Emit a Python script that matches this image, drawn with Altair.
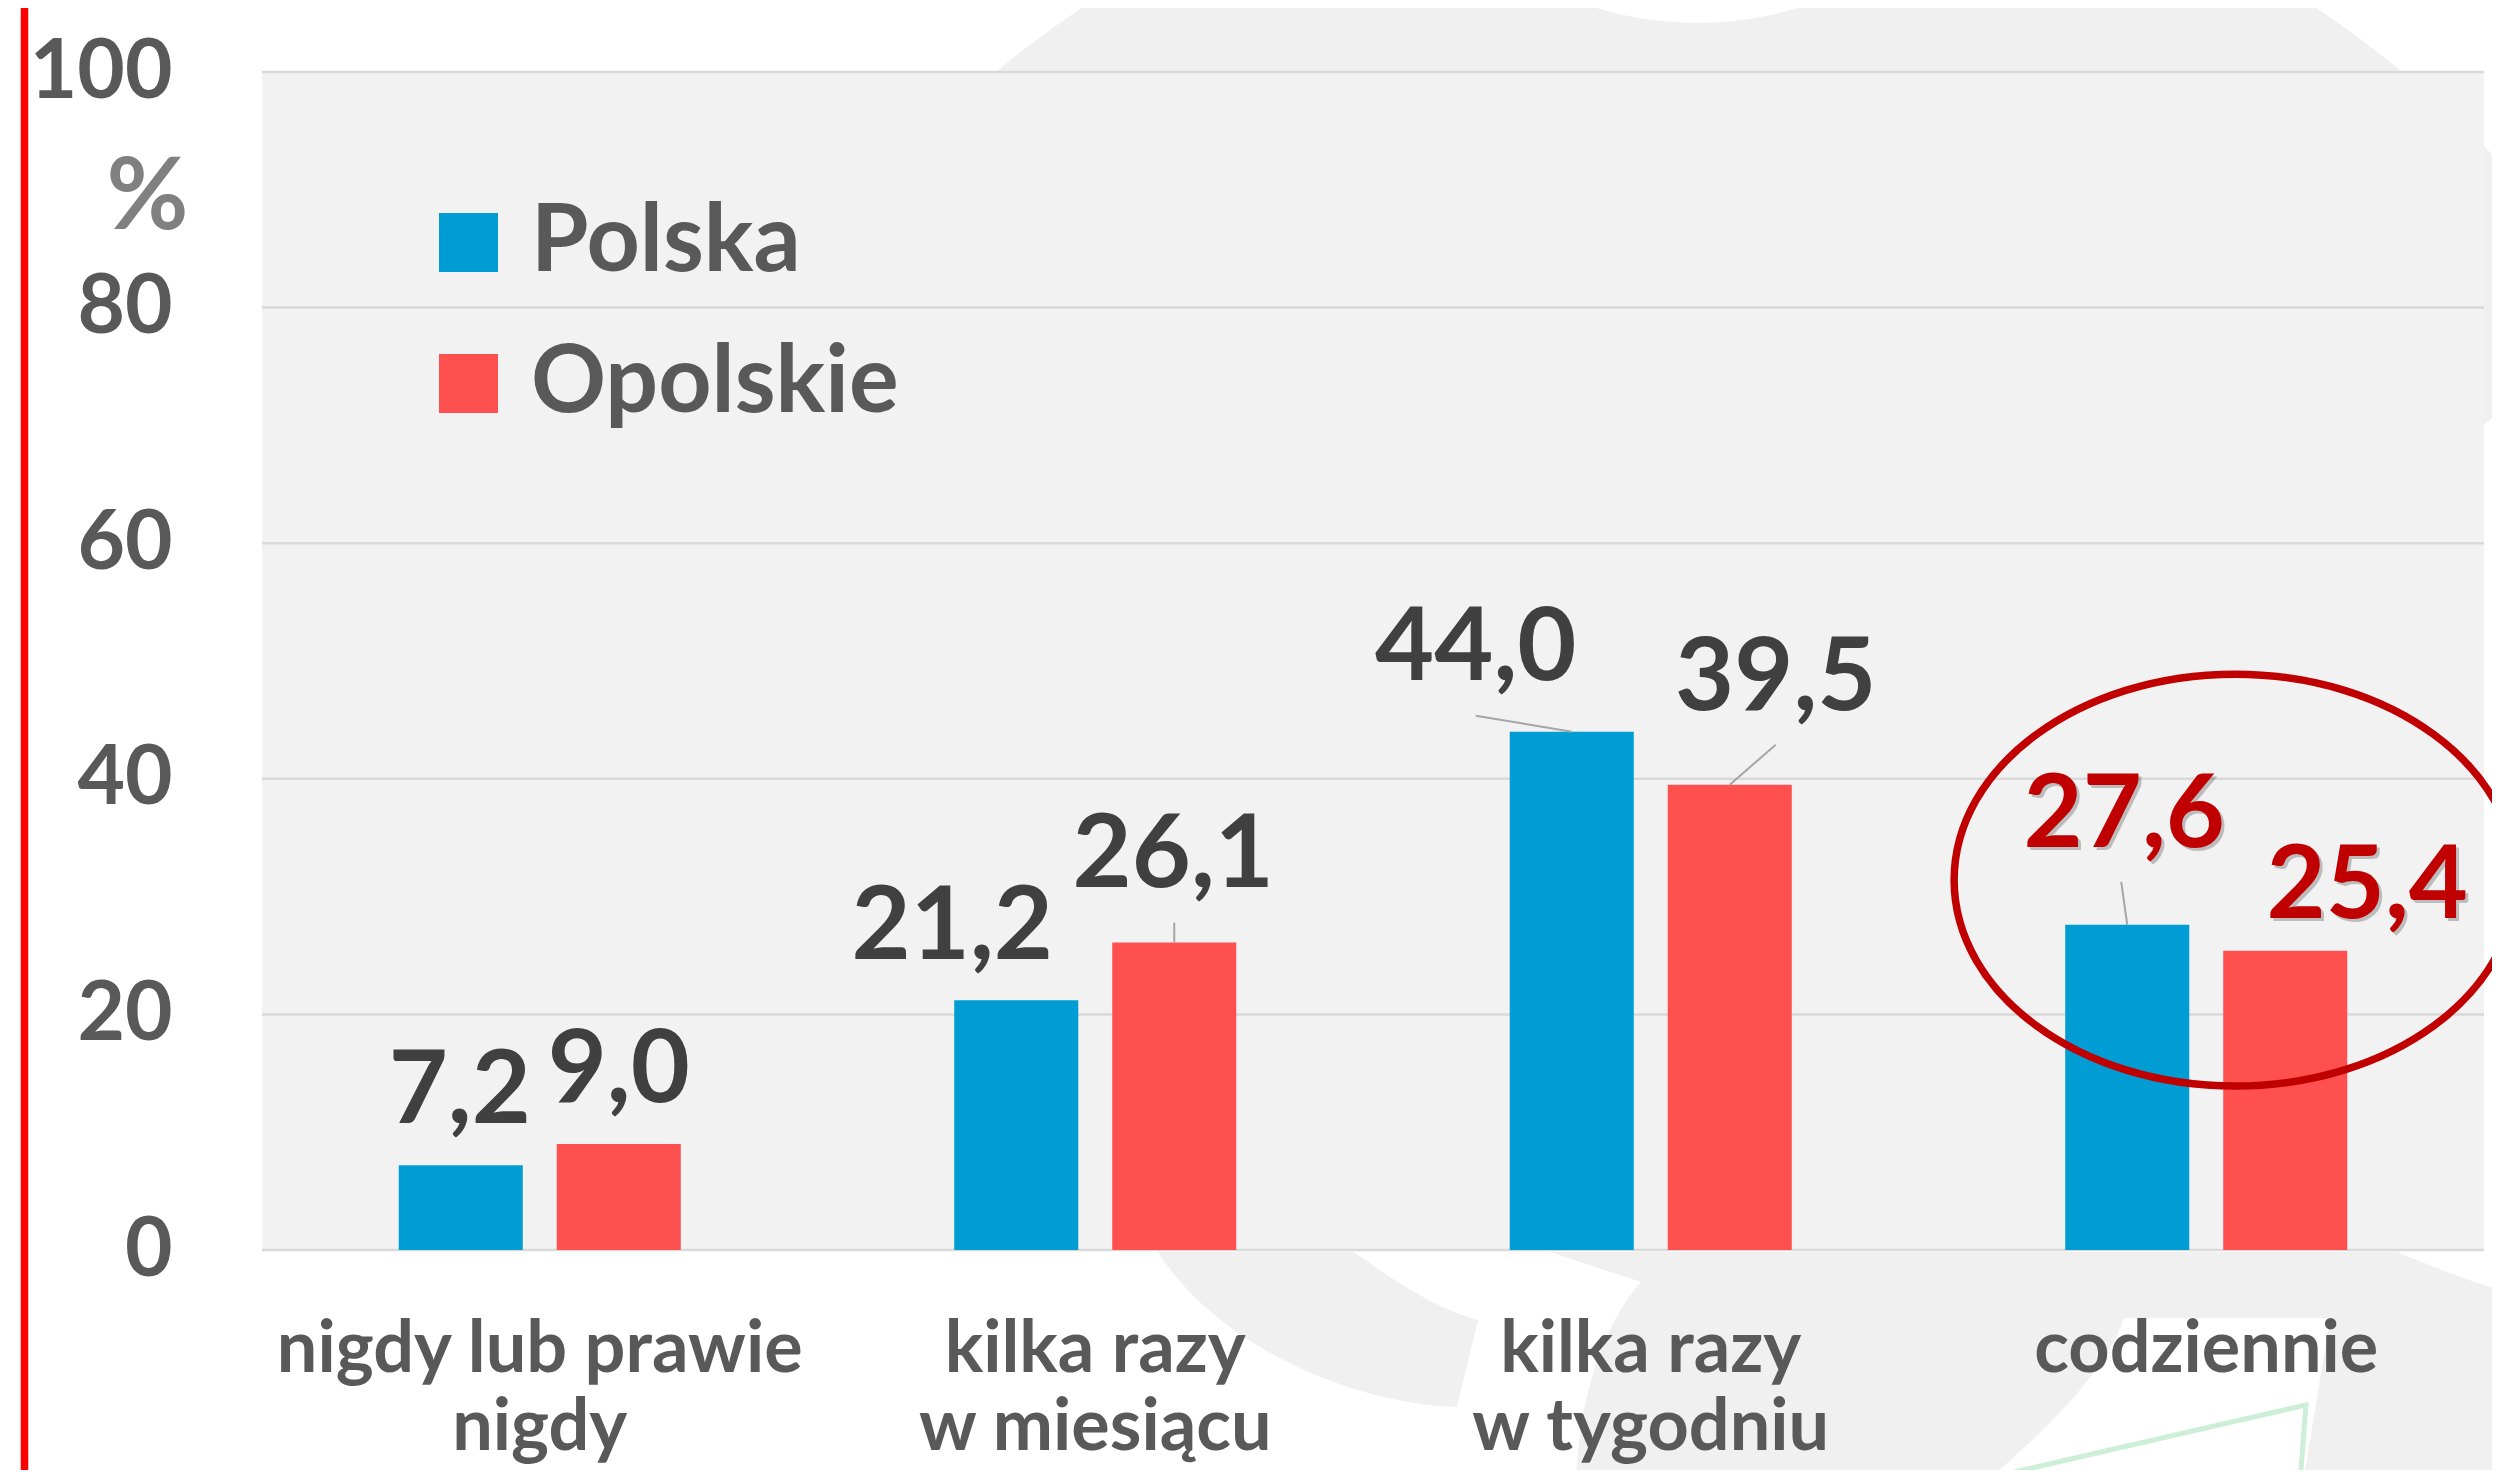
import math
import altair as alt
import pandas as pd

# ---------------- data ----------------
categories = ["nigdy lub prawie\nnigdy", "kilka razy\nw miesiącu", "kilka razy\nw tygodniu", "codziennie"]
series = ["Polska", "Opolskie"]
polska = [7.2, 21.2, 44.0, 27.6]
opolskie = [9.0, 26.1, 39.5, 25.4]
y_ticks = [0, 20, 40, 60, 80, 100]
highlight = "codziennie"

# label placement: pixel offset of label centre (x) / baseline (y) from the bar-top centre
label_dx = [[-1, -64, -96, -3], [0, -1, 46, 82]]
label_dy = [[-42, -41, -52, -78], [-42, -56, -75, -33]]
# leader lines: pixel offset of the far end from the bar-top centre (None = no leader)
leader = [[None, None, (-96, -16), (-6, -43)], [None, (0, -20), (46, -40), None]]

# ---------------- layout ----------------
W, H = 2222, 1178
PAD_INNER, PAD_OFF = 0.4923, 0.215
step_px = W / len(categories)
unit_px = H / 100
half = (1 - PAD_INNER) / (2 - PAD_OFF) / 2  # bar-centre offset, in category units

rows, lead_rows = [], []
for si, (s, vals) in enumerate(zip(series, [polska, opolskie])):
    sign = -1 if si == 0 else 1
    for ci, (c, v) in enumerate(zip(categories, vals)):
        xc = ci + 0.5 + sign * half
        rows.append(dict(cat=c, series=s, value=v,
                         text=f"{v:.1f}".replace(".", ","),
                         lx=xc + label_dx[si][ci] / step_px,
                         ly=v - label_dy[si][ci] / unit_px))
        if leader[si][ci]:
            dx, dy = leader[si][ci]
            lead_rows.append(dict(cat=c, x=xc, y=v, x2=xc + dx / step_px, y2=v - dy / unit_px))

df = pd.DataFrame(rows)
lead_df = pd.DataFrame(lead_rows)
one = pd.DataFrame({"k": [0]})
grid_df = pd.DataFrame({"t": y_ticks})

FONT = "Lato"
WM = "#EFF0EF"  # slide watermark grey
qx = alt.Scale(domain=[0, len(categories)], nice=False, zero=False)
ys = alt.Scale(domain=[0, 100], nice=False)
y_axis = alt.Axis(values=y_ticks, grid=False, ticks=False, domain=False,
                  labelFont=FONT, labelFontSize=82, labelFontWeight="bold",
                  labelColor="#595959", labelPadding=90,
                  title="%", titleAngle=0, titleX=-115, titleY=156,
                  titleAlign="center", titleBaseline="alphabetic",
                  titleFont=FONT, titleFontSize=100, titleFontWeight="bold",
                  titleColor="#808080")

# ---------------- decoration (slide watermark, page-pixel paths) ----------------
deco_arc = alt.Chart(one).mark_arc(
    radius=1108, theta=2 * math.pi - 1.0, theta2=2 * math.pi + 1.0, color=WM
).encode(x=alt.value(1437), y=alt.value(856))

deco_notch = alt.Chart(one).mark_point(
    shape="circle", filled=True, color="white", opacity=1, size=(2 * 346) ** 2
).encode(x=alt.value(1435), y=alt.value(-395))

wm_grey = ("M1158,1252 L1354,1252 C1400,1285 1440,1310 1478,1320 L1457,1407 "
           "C1360,1405 1220,1350 1158,1252 Z "
           "M1550,1252 L2397,1252 C2430,1265 2465,1280 2500,1290 L2520,1290 L2520,1520 "
           "L1574,1520 C1576,1400 1600,1330 1641,1282 Z")
wm_white = "M2124,1318 L2330,1318 L2297,1520 L1940,1520 C2000,1470 2100,1390 2124,1318 Z"
wm_green = "M1962,1484 L2306,1405 L2297,1520"

deco_low = alt.Chart(one).mark_point(
    shape=wm_grey, size=4, filled=True, color=WM, opacity=1
).encode(x=alt.value(-262), y=alt.value(-72))
deco_low_white = alt.Chart(one).mark_point(
    shape=wm_white, size=4, filled=True, color="white", opacity=1
).encode(x=alt.value(-262), y=alt.value(-72))
deco_low_green = alt.Chart(one).mark_point(
    shape=wm_green, size=4, filled=False, stroke="#CDEFD8", strokeWidth=5, opacity=1
).encode(x=alt.value(-262), y=alt.value(-72))

side_line = alt.Chart(one).mark_rule(color="#FF0000", strokeWidth=7.5).encode(
    x=alt.value(-237.5), y=alt.value(-80), y2=alt.value(1420)
)

# ---------------- plot background & grid ----------------
bg = alt.Chart(one).mark_rect(color="#F2F2F2").encode(
    x=alt.datum(0, scale=qx, axis=None), x2=alt.datum(len(categories)),
    y=alt.datum(0, scale=ys, axis=y_axis), y2=alt.datum(100),
)

grid = alt.Chart(grid_df).mark_rule(color="#D9D9D9", strokeWidth=2.5).encode(
    y=alt.Y("t:Q", scale=ys, axis=y_axis)
)

# ---------------- bars ----------------
bars = alt.Chart(df).mark_bar().encode(
    x=alt.X("cat:N", sort=categories,
            scale=alt.Scale(paddingInner=PAD_INNER, paddingOuter=PAD_INNER / 2),
            axis=alt.Axis(title=None, labelAngle=0, ticks=False, domain=False, grid=False,
                          labelFont=FONT, labelFontSize=72, labelFontWeight="bold",
                          labelColor="#595959", labelPadding=64, labelLineHeight=78,
                          labelLimit=0, zindex=1,
                          labelExpr="split(datum.label, '\\n')")),
    xOffset=alt.XOffset("series:N", sort=series,
                        scale=alt.Scale(paddingInner=PAD_OFF, paddingOuter=0)),
    y=alt.Y("value:Q", scale=ys, axis=y_axis),
    color=alt.Color("series:N", sort=series,
                    scale=alt.Scale(domain=series, range=["#009CD4", "#FF5050"]),
                    legend=alt.Legend(title=None, orient="none", legendX=160, legendY=124,
                                      symbolType="square", symbolSize=3481,
                                      symbolStrokeWidth=0, symbolOpacity=1,
                                      labelFont=FONT, labelFontSize=93, labelFontWeight="bold",
                                      labelColor="#595959", labelOffset=16, rowPadding=47,
                                      labelLimit=0, padding=0)),
)

# ---------------- annotations ----------------
leaders = alt.Chart(lead_df).mark_rule(color="#A6A6A6", strokeWidth=2).encode(
    x=alt.X("x:Q", scale=qx, axis=None), x2="x2:Q",
    y=alt.Y("y:Q", scale=ys, axis=y_axis), y2="y2:Q",
)

shadow = alt.Chart(df).transform_filter(alt.datum.cat == highlight).mark_text(
    font=FONT, fontSize=102, fontWeight="bold", align="center", baseline="alphabetic",
    dx=3, dy=3, color="#000000", opacity=0.22,
).encode(
    x=alt.X("lx:Q", scale=qx, axis=None), y=alt.Y("ly:Q", scale=ys, axis=y_axis), text="text:N"
)

labels = alt.Chart(df).mark_text(
    font=FONT, fontSize=102, fontWeight="bold", align="center", baseline="alphabetic"
).encode(
    x=alt.X("lx:Q", scale=qx, axis=None),
    y=alt.Y("ly:Q", scale=ys, axis=y_axis),
    text="text:N",
    color=alt.condition(alt.datum.cat == highlight, alt.value("#C00000"), alt.value("#404040")),
)

# highlight ellipse round the last group (centre in data units)
ell_k = 0.5523
ry = 0.733
ell_path = (f"M1,0 C1,{ell_k*ry:.4f} {ell_k:.4f},{ry} 0,{ry} "
            f"C{-ell_k:.4f},{ry} -1,{ell_k*ry:.4f} -1,0 "
            f"C-1,{-ell_k*ry:.4f} {-ell_k:.4f},{-ry} 0,{-ry} "
            f"C{ell_k:.4f},{-ry} 1,{-ell_k*ry:.4f} 1,0 Z")
ellipse_df = pd.DataFrame({"ex": [3.552], "ey": [31.4]})
ellipse = alt.Chart(ellipse_df).mark_point(
    shape=ell_path, size=562 ** 2, filled=False, stroke="#C00000", strokeWidth=7.5, opacity=1
).encode(x=alt.X("ex:Q", scale=qx, axis=None), y=alt.Y("ey:Q", scale=ys, axis=y_axis))

chart = alt.layer(
    deco_arc, deco_notch, deco_low, deco_low_white, deco_low_green,
    bg, grid, bars, leaders, shadow, labels, ellipse, side_line
).resolve_scale(x="independent").properties(
    width=W, height=H,
    padding={"left": 254, "top": 64, "right": 8, "bottom": 220},
    autosize=alt.AutoSizeParams(type="none"),
    background="white",
).configure_view(stroke=None)

chart.save("out.html", embed_options={"renderer": "svg", "actions": False})
